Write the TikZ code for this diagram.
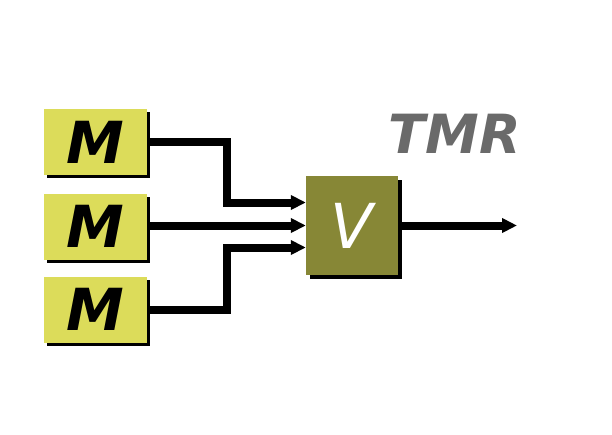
\documentclass[tikz,border=0pt]{standalone}
\usepackage{fontspec}
\setmainfont{DejaVu Sans}
\usetikzlibrary{arrows.meta,calc,shadows}
\definecolor{mfill}{HTML}{DCDC5A}
\definecolor{vfill}{HTML}{878736}
\definecolor{tmrgray}{HTML}{6A6A6A}
\tikzset{
  mbox/.style={fill=mfill, minimum width=103pt, minimum height=66pt, inner sep=0pt,
    drop shadow={shadow xshift=3pt, shadow yshift=-3pt, fill=black, opacity=1},
    font=\fontsize{58}{58}\selectfont\bfseries\itshape},
  vbox/.style={fill=vfill, minimum width=92pt, minimum height=99pt, inner sep=0pt,
    drop shadow={shadow xshift=4pt, shadow yshift=-4pt, fill=black, opacity=1},
    text=white, font=\fontsize{62}{62}\selectfont\itshape},
  wire/.style={line width=8pt, line join=miter, -{Triangle[length=15pt,width=14pt]}},
}
\begin{document}
\begin{tikzpicture}[x=1pt,y=-1pt]
\useasboundingbox (0,0) rectangle (612,434);
\node[mbox] (M1) at (95.5,142) {M};
\node[mbox] (M2) at (95.5,226.5) {M};
\node[mbox] (M3) at (95.5,309.5) {M};
\node[vbox] (V) at (352,225.5) {V};
\node[text=tmrgray, font=\fontsize{54}{54}\selectfont\bfseries\itshape, anchor=base] (T) at (455,153) {TMR};
\coordinate (out) at (517,225.5);
\draw[wire] (M1.east) -| ($(V.west)+(-79,-23)$) -- ($(V.west)+(0,-23)$);
\draw[wire] (M2.east |- V.west) -- (V.west);
\draw[wire] (M3.east) -| ($(V.west)+(-79,22)$) -- ($(V.west)+(0,22)$);
\draw[wire] (V.east) -- (out);
\end{tikzpicture}
\end{document}
